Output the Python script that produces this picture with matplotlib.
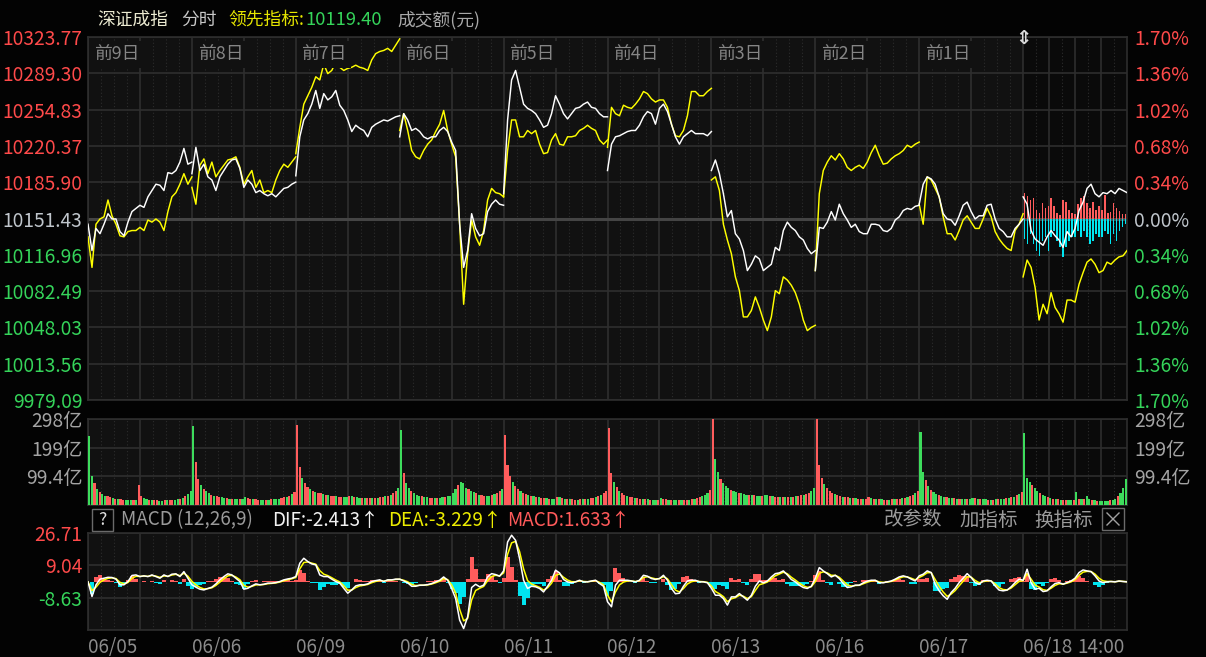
import numpy as np
import pandas as pd
import matplotlib
matplotlib.use("Agg")
import matplotlib.pyplot as plt
from matplotlib.patches import Rectangle
from matplotlib.lines import Line2D

plt.rcParams['font.family'] = ['Noto Sans CJK SC', 'DejaVu Sans']

# ---------------- data ----------------
day_labels = ['前9日', '前8日', '前7日', '前6日', '前5日', '前4日', '前3日', '前2日', '前1日']
date_labels = ['06/05', '06/06', '06/09', '06/10', '06/11', '06/12', '06/13', '06/16', '06/17', '06/18']
price_ticks = [10323.77, 10289.30, 10254.83, 10220.37, 10185.90, 10151.43,
               10116.96, 10082.49, 10048.03, 10013.56, 9979.09]
pct_labels = ['1.70%', '1.36%', '1.02%', '0.68%', '0.34%', '0.00%',
              '0.34%', '0.68%', '1.02%', '1.36%', '1.70%']
prev_close = 10151.43
vol_ticks = [298, 199, 99.4]
vol_labels = ['298亿', '199亿', '99.4亿']
macd_ticks = [26.71, 9.04, -8.63]
macd_labels = ['26.71', '9.04', '-8.63']

# 深证成指 (white) per day
index_d1 = [10146, 10121, 10142, 10137, 10146, 10156, 10151, 10151, 10139, 10135, 10148, 10158, 10161, 10164,
            10162, 10172, 10178, 10184, 10183, 10178, 10195, 10194, 10197, 10205, 10218, 10203, 10205]
index_d2 = [10194, 10219, 10197, 10203, 10191, 10188, 10178, 10191, 10197, 10203, 10207, 10208, 10199, 10181,
            10188, 10184, 10176, 10178, 10175, 10173, 10175, 10172, 10176, 10180, 10181, 10184, 10186]
index_d3 = [10192, 10229, 10245, 10251, 10260, 10273, 10256, 10270, 10264, 10267, 10273, 10259, 10254, 10245,
            10234, 10240, 10237, 10235, 10229, 10238, 10241, 10243, 10245, 10244, 10246, 10248, 10249]
index_d4 = [10229, 10251, 10245, 10235, 10237, 10234, 10229, 10227, 10229, 10229, 10235, 10238, 10234, 10224,
            10216, 10146, 10105, 10121, 10156, 10142, 10135, 10137, 10158, 10165, 10169, 10165, 10164]
index_d5 = [10175, 10245, 10283, 10292, 10276, 10260, 10256, 10254, 10251, 10245, 10238, 10240, 10251, 10268,
            10260, 10251, 10246, 10251, 10256, 10257, 10260, 10262, 10257, 10256, 10251, 10248, 10248]
index_d6 = [10197, 10222, 10229, 10230, 10232, 10234, 10235, 10235, 10240, 10248, 10253, 10251, 10241, 10256,
            10260, 10253, 10241, 10229, 10222, 10229, 10232, 10235, 10232, 10232, 10232, 10230, 10234]
index_d7 = [10197, 10207, 10194, 10175, 10153, 10159, 10137, 10132, 10121, 10102, 10108, 10116, 10113, 10102,
            10105, 10108, 10124, 10121, 10140, 10148, 10143, 10140, 10134, 10131, 10123, 10118, 10121]
index_d8 = [10102, 10143, 10142, 10148, 10158, 10150, 10165, 10156, 10150, 10143, 10146, 10139, 10137, 10137,
            10146, 10146, 10145, 10140, 10139, 10142, 10150, 10153, 10159, 10161, 10160, 10163, 10164]
index_d9 = [10165, 10184, 10191, 10189, 10184, 10172, 10156, 10151, 10150, 10145, 10154, 10164, 10167, 10158,
            10151, 10154, 10154, 10164, 10165, 10151, 10142, 10139, 10134, 10134, 10142, 10146, 10151]
index_d10 = [10172, 10165, 10140, 10132, 10129, 10126, 10134, 10140, 10135, 10131, 10124, 10139, 10134, 10142,
             10159, 10167, 10180, 10184, 10175, 10172, 10176, 10175, 10178, 10175, 10180, 10178, 10176]

# 领先指标 (yellow) per day
lead_d1 = [10134, 10105, 10146, 10151, 10153, 10169, 10154, 10146, 10135, 10134, 10139, 10140, 10140, 10143,
           10140, 10150, 10148, 10151, 10148, 10140, 10158, 10172, 10176, 10184, 10194, 10184, 10191]
lead_d2 = [10181, 10165, 10202, 10208, 10194, 10205, 10191, 10197, 10202, 10207, 10208, 10210, 10200, 10184,
           10191, 10197, 10181, 10188, 10176, 10178, 10176, 10188, 10197, 10203, 10200, 10205, 10210]
lead_d3 = [10213, 10238, 10260, 10268, 10276, 10286, 10283, 10298, 10289, 10292, 10300, 10295, 10292, 10294,
           10295, 10297, 10295, 10294, 10292, 10302, 10308, 10310, 10311, 10313, 10310, 10316, 10322]
lead_d4 = [10235, 10251, 10235, 10216, 10210, 10208, 10216, 10222, 10226, 10234, 10241, 10254, 10235, 10222,
           10210, 10146, 10070, 10118, 10150, 10134, 10126, 10140, 10169, 10180, 10176, 10175, 10172]
lead_d5 = [10172, 10216, 10245, 10245, 10229, 10229, 10235, 10232, 10235, 10222, 10213, 10214, 10226, 10232,
           10222, 10221, 10229, 10229, 10230, 10235, 10237, 10240, 10237, 10235, 10226, 10222, 10226]
lead_d6 = [10219, 10257, 10251, 10249, 10259, 10257, 10256, 10260, 10265, 10272, 10270, 10265, 10262, 10264,
           10264, 10257, 10241, 10230, 10229, 10235, 10249, 10272, 10272, 10268, 10268, 10272, 10275]
lead_d7 = [10188, 10191, 10178, 10146, 10131, 10118, 10096, 10083, 10058, 10058, 10064, 10077, 10067, 10055,
           10045, 10058, 10083, 10080, 10096, 10093, 10088, 10081, 10070, 10055, 10045, 10048, 10050]
lead_d8 = [10102, 10175, 10197, 10205, 10211, 10207, 10213, 10208, 10200, 10197, 10200, 10202, 10199, 10205,
           10214, 10221, 10211, 10203, 10204, 10208, 10211, 10213, 10216, 10221, 10219, 10222, 10224]
lead_d9 = [10165, 10146, 10191, 10188, 10180, 10172, 10153, 10137, 10137, 10131, 10140, 10150, 10154, 10148,
           10142, 10142, 10151, 10161, 10153, 10139, 10132, 10127, 10123, 10121, 10140, 10146, 10156]
lead_d10 = [10096, 10112, 10105, 10086, 10055, 10070, 10061, 10081, 10067, 10061, 10053, 10074, 10074, 10072,
            10089, 10100, 10110, 10113, 10108, 10100, 10102, 10110, 10108, 10112, 10115, 10116, 10121]

# today's buy / sell amounts (bars around the 0% line)
buy_amt = [25, 22, 18, 20, 8, 5, 15, 10, 12, 20, 12, 5, 3, 18, 16, 8, 5, 4, 14, 20,
           22, 15, 10, 16, 8, 12, 8, 23, 5, 6, 15, 10, 7, 4, 4]
sell_amt = [20, 25, 15, 25, 32, 37, 22, 18, 32, 18, 12, 22, 28, 38, 28, 22, 18, 18, 12, 18,
            12, 18, 25, 22, 15, 18, 18, 12, 15, 25, 15, 22, 12, 8, 5]

# 成交额 (亿) per day
vol_d1 = [240, 100, 75, 55, 45, 38, 32, 30, 26, 24, 22, 20, 20, 19, 18, 18, 17, 17, 16, 70,
          30, 24, 20, 18, 17, 16, 16, 15, 15, 16, 16, 17, 18, 18, 20, 22, 25, 30, 38, 50]
vol_d2 = [275, 150, 90, 70, 55, 48, 42, 36, 32, 30, 28, 26, 25, 24, 22, 22, 21, 20, 20, 20,
          26, 24, 22, 20, 20, 19, 18, 18, 18, 19, 20, 20, 21, 22, 24, 26, 28, 32, 38, 45]
vol_d3 = [277, 130, 95, 75, 62, 55, 50, 46, 42, 40, 38, 36, 34, 32, 30, 30, 28, 28, 26, 26,
          32, 30, 28, 26, 25, 24, 24, 23, 23, 24, 24, 25, 26, 28, 30, 32, 35, 40, 48, 60]
vol_d4 = [260, 110, 75, 60, 50, 42, 36, 32, 30, 28, 26, 25, 24, 24, 24, 25, 26, 28, 30, 32,
          40, 55, 70, 80, 75, 60, 55, 50, 45, 40, 36, 34, 32, 30, 32, 35, 38, 42, 48, 55]
vol_d5 = [243, 140, 100, 80, 65, 55, 48, 42, 38, 35, 32, 30, 28, 26, 25, 24, 23, 22, 22, 22,
          28, 26, 24, 22, 21, 20, 20, 19, 19, 20, 20, 21, 22, 23, 25, 27, 30, 34, 40, 48]
vol_d6 = [267, 110, 80, 62, 50, 42, 36, 32, 28, 26, 24, 23, 22, 21, 20, 20, 19, 19, 18, 18,
          24, 22, 20, 19, 18, 18, 17, 17, 17, 18, 18, 19, 20, 22, 24, 26, 30, 35, 42, 52]
vol_d7 = [298, 160, 115, 90, 75, 65, 58, 52, 48, 45, 42, 40, 38, 36, 35, 34, 33, 32, 31, 30,
          36, 34, 32, 30, 29, 28, 28, 27, 27, 28, 28, 29, 30, 31, 33, 35, 38, 42, 48, 58]
vol_d8 = [298, 140, 95, 72, 58, 48, 42, 38, 34, 31, 29, 27, 26, 25, 24, 23, 22, 22, 21, 21,
          26, 24, 22, 21, 20, 20, 19, 19, 19, 20, 20, 21, 22, 23, 25, 27, 30, 34, 40, 48]
vol_d9 = [253, 115, 85, 65, 52, 44, 38, 34, 31, 29, 27, 25, 24, 23, 22, 21, 21, 20, 20, 20,
          25, 23, 22, 21, 20, 20, 19, 19, 19, 20, 20, 21, 22, 23, 24, 26, 29, 33, 38, 45]
vol_d10 = [250, 95, 80, 70, 60, 50, 42, 36, 30, 26, 24, 22, 20, 20, 19, 18, 18, 18, 17, 17,
           45, 22, 20, 20, 30, 22, 18, 16, 15, 15, 15, 15, 15, 16, 18, 22, 30, 40, 60, 90]

# up (r) / down (g) colour of each volume bar
volcol_d1 = "ggrgrggrrg" "rgrrgggrgr" "rggrgrrggr" "grrggrgrgg"
volcol_d2 = "grrgrggrgr" "rggrgrggrg" "grrgrrggrg" "rgggrrgrgr"
volcol_d3 = "rrgrrgrgrr" "grgrrgrrgg" "rgrggrgrrg" "rgrrgrgrrg"
volcol_d4 = "grggrgggrg" "grrgrggrgg" "ggrgggrggr" "grrggrgrrg"
volcol_d5 = "rrrgrrgrrg" "rgrgrrgrgg" "rgrgrgrrgr" "grgrrgrgrr"
volcol_d6 = "rrgrgrrgrr" "grrgrgrggr" "grrgrggrgr" "rgrgrrgggr"
volcol_d7 = "rggrgggrgg" "rgggrgrggr" "ggrgrrgrgr" "grgrrgrrgg"
volcol_d8 = "rrrgrrrgrr" "grrgrgrrgr" "rgrgrgrrgr" "grrgrgrrgr"
volcol_d9 = "ggrgrggrgg" "rggrgrggrg" "grgrggrgrg" "rggrgrgrgr"
volcol_d10 = "gggrggrggr" "grgrgrrggr" "grgrggrgrg" "gggrggrggg"

# MACD DIF per day
dif_d1 = [0, -8, -1.6, 1.5, 2, 2.5, 2.4, 1.5, -1.6, -1.6, 0.2, 3.5, 3.8, 2.9, 3.3, 2.9, 3.8, 2.9, 2, 3.8,
          2.9, 4.2, 4.4, 2.9, 5.6, 2]
dif_d2 = [-1.6, -2.9, -4, -4.4, -3.6, -2.9, -1.1, 1.1, 2.9, 4.4, 3.8, 2, 0.2, -4, -3.5, -2.2, -1.1, -1.6,
          -1.3, -0.7, -0.7, -0.4, 0.2, 1.1, 1.6, 2]
dif_d3 = [2.9, 10.2, 12.9, 11.1, 9.8, 9.3, 3.8, 2.9, 2.9, 1.5, 0.2, -0.7, -3.5, -6.2, -4.4, -2.2, -1.6, -1.6,
          -1.1, 0.2, 0.7, 1.1, 0.2, 1.1, 1.1, 1.5]
dif_d4 = [1.5, 0.5, -0.5, -2.4, -2.4, -1.8, -1.8, -1.5, -0.9, 0, 0.9, 2.7, 0.9, -3.6, -9.1, -20.9, -25.5,
          -19.1, -3.1, -1.3, -2.7, -1.8, 2.7, 4.5, 4, 3.1]
dif_d5 = [6, 21.8, 25.5, 22.7, 12.7, 0.9, -3.6, -2.4, -2.7, -3.6, -5.5, -2.4, 0.9, 6.4, 4.9, 1.3, 0, -0.5,
          0, 0.9, 0, 0, 0.5, 0.9, -0.9, -2.4]
dif_d6 = [-10.9, -13.6, -1.8, 0.9, 0.9, 0.9, 0.5, 0, 0.9, 3.6, 3.1, 1.8, 1.3, 1.8, 3.6, 0.9, -3.6, -6.5,
          -6.2, -2.4, 0.5, 0.9, 0.9, 0, 0, -0.5]
dif_d7 = [-3.5, -7.3, -7.3, -9.1, -12.7, -8.2, -8.2, -6.4, -8.2, -10, -7.3, -2.4, 0.5, -0.5, 0.5, 2.7, 4.5,
          4.9, 6, 3.8, 1.3, 0, -1.8, -3.1, -3.6, -2.4]
dif_d8 = [2, 7.8, 6, 4.5, 2.7, 3.6, 1.8, -0.9, -3.1, -2.7, -1.8, -1.8, -0.5, 0.4, 0.9, 0.9, -0.5, -0.5,
          0, 0.5, 1.5, 2.7, 3.3, 2.7, 1.5, 0.5]
dif_d9 = [3.3, 4.2, 6, 5.1, -1.3, -4.9, -7.6, -9.5, -5.8, -3.5, -0.4, 2, 4.5, 2.4, -0.4, -1.3, 0.5, 0.9,
          0.5, -2.2, -4.5, -4.9, -4.5, -2.7, -0.4, 1.5]
dif_d10 = [0.9, 6.9, -0.4, -4, -3.5, -5.3, -4.9, -2.7, -0.9, -0.4, -1.3, -0.4, 0.5, 2, 5.1, 6.5, 6, 5.6,
           3.3, 0.5, -0.4, 0, 0.2, 0, 0.5, 0.2, 0]

# ---------------- styling ----------------
BG = '#030303'
PANEL = '#111111'
TODAY_BG = '#0a0a0a'
GRID = '#2e2e2e'
GRID_DOT = '#2c2c2c'
WHITE = '#ffffff'
YELLOW = '#ffff00'
RED = '#ff4a4a'
GREEN = '#35d45a'
GRAY_T = '#9a9a9a'
RED_BAR = '#ff5c5c'
GREEN_BAR = '#3ddc5c'
CYAN = '#00e5f0'
AXFS = 13.8

W, H = 1206, 657
fig = plt.figure(figsize=(W / 100, H / 100), dpi=100, facecolor=BG)


def rect(x0, y0, x1, y1):
    return [x0 / W, 1 - y1 / H, (x1 - x0) / W, (y1 - y0) / H]


def ftext(x, y, s, **kw):
    ha = kw.pop('ha', 'left')
    return fig.text(x / W, 1 - y / H, s, ha=ha, va='center', **kw)


DAY = 240
ND = 10
XMAX = DAY * ND

ax = fig.add_axes(rect(88, 37, 1127, 400))
axv = fig.add_axes(rect(88, 419, 1127, 505))
axm = fig.add_axes(rect(88, 533, 1127, 630))


def style(a, hticks):
    a.set_facecolor(PANEL)
    a.set_xlim(0, XMAX)
    for s in a.spines.values():
        s.set_color(GRID)
        s.set_linewidth(1.2)
    a.axvspan(9 * DAY, XMAX, color=TODAY_BG, zorder=0, lw=0)
    for d in range(ND):
        if d < ND - 1:
            solids = [d * DAY, d * DAY + 120]
            dots = [d * DAY + 30 * j for j in (1, 2, 3, 5, 6, 7)]
        else:
            solids = [d * DAY + 60 * j for j in range(4)]
            dots = [d * DAY + 30 + 60 * j for j in range(4)]
        for s in solids:
            a.axvline(s, color=GRID, lw=1.2, zorder=1)
        for s in dots:
            a.axvline(s, color=GRID_DOT, lw=0.8, ls=(0, (1, 2)), zorder=1)
    for t in hticks:
        a.axhline(t, color=GRID, lw=1.2, zorder=1)
    a.tick_params(axis='x', length=0)
    a.tick_params(axis='y', length=0)


# ---- main price panel ----
style(ax, price_ticks)
ax.set_ylim(price_ticks[-1], price_ticks[0])
ax.axhline(prev_close, color='#444444', lw=2.2, zorder=2)

index_days = [index_d1, index_d2, index_d3, index_d4, index_d5, index_d6, index_d7, index_d8, index_d9, index_d10]
lead_days = [lead_d1, lead_d2, lead_d3, lead_d4, lead_d5, lead_d6, lead_d7, lead_d8, lead_d9, lead_d10]
for d in range(ND):
    wv = np.array(index_days[d], dtype=float)
    yv = np.array(lead_days[d], dtype=float)
    xw = d * DAY + np.linspace(0, DAY, len(wv))
    xy = d * DAY + np.linspace(0, DAY, len(yv))
    ax.plot(xy, yv, color=YELLOW, lw=1.05, zorder=4)
    ax.plot(xw, wv, color=WHITE, lw=1.05, zorder=5)

# buy / sell bars of today
PTS_PER_UNIT = 0.95
nb = len(buy_amt)
slot = DAY / nb
xb = 9 * DAY + (np.arange(nb) + 0.5) * slot
ax.bar(xb, np.array(buy_amt) * PTS_PER_UNIT, bottom=prev_close, width=slot * 0.55,
       color=RED_BAR, lw=0, zorder=3)
ns = len(sell_amt)
slot_s = DAY / ns
xs = 9 * DAY + (np.arange(ns) + 0.5) * slot_s
ax.bar(xs, -np.array(sell_amt) * PTS_PER_UNIT, bottom=prev_close, width=slot_s * 0.55,
       color=CYAN, lw=0, zorder=3)

ax.set_xticks([])
ax.set_yticks(price_ticks)
ax.set_yticklabels([f'{v:.2f}' for v in price_ticks])
ax.tick_params(axis='y', pad=4, labelsize=AXFS)
for i, lab in enumerate(ax.get_yticklabels()):
    lab.set_color(RED if i < 5 else ('#c0c6cc' if i == 5 else GREEN))

axr = ax.twinx()
axr.set_ylim(ax.get_ylim())
axr.set_yticks(price_ticks)
axr.set_yticklabels(pct_labels)
axr.tick_params(axis='y', length=0, pad=5, labelsize=AXFS)
for s in axr.spines.values():
    s.set_visible(False)
for i, lab in enumerate(axr.get_yticklabels()):
    lab.set_color(RED if i < 5 else ('#c0c6cc' if i == 5 else GREEN))

for d, lab in enumerate(day_labels):
    ax.text(d * DAY + 13, 0.952, lab, transform=ax.get_xaxis_transform(), color='#858585',
            fontsize=12.8, ha='left', va='center', zorder=6,
            bbox=dict(boxstyle='square,pad=0.25', fc=PANEL, ec='none'))

# ---- volume panel ----
style(axv, vol_ticks)
axv.set_ylim(0, 298)
vol_days = [vol_d1, vol_d2, vol_d3, vol_d4, vol_d5, vol_d6, vol_d7, vol_d8, vol_d9, vol_d10]
col_days = [volcol_d1, volcol_d2, volcol_d3, volcol_d4, volcol_d5, volcol_d6, volcol_d7, volcol_d8,
            volcol_d9, volcol_d10]
for d in range(ND):
    v = np.array(vol_days[d], dtype=float)
    n = len(v)
    sw = DAY / n
    xv = d * DAY + (np.arange(n) + 0.5) * sw
    cols = [RED_BAR if c == 'r' else GREEN_BAR for c in col_days[d][:n]]
    axv.bar(xv, v, width=sw * 0.82, color=cols, lw=0, zorder=3)
axv.set_xticks([])
axv.set_yticks(vol_ticks)
axv.set_yticklabels(vol_labels)
axv.tick_params(axis='y', pad=4, labelsize=AXFS, labelcolor='#a4a4a4')
axvr = axv.twinx()
axvr.set_ylim(axv.get_ylim())
axvr.set_yticks(vol_ticks)
axvr.set_yticklabels(vol_labels)
axvr.tick_params(axis='y', length=0, pad=5, labelsize=AXFS, labelcolor='#a4a4a4')
for s in axvr.spines.values():
    s.set_visible(False)

# ---- MACD panel ----
style(axm, macd_ticks)
axm.set_ylim(-26.30, 26.71)
dif = np.array(dif_d1 + dif_d2 + dif_d3 + dif_d4 + dif_d5 + dif_d6 + dif_d7 + dif_d8 + dif_d9 + dif_d10,
               dtype=float)
dea = pd.Series(dif).ewm(alpha=0.6, adjust=False).mean().to_numpy()
hist = 2 * (dif - dea)
xm = np.linspace(0, XMAX, len(dif))
mw = XMAX / (len(dif) - 1)
axm.bar(xm, hist, width=mw, color=[RED_BAR if h >= 0 else CYAN for h in hist], lw=0, zorder=3)
axm.plot(xm, dea, color=YELLOW, lw=1.1, zorder=4)
axm.plot(xm, dif, color=WHITE, lw=1.1, zorder=5)
axm.set_yticks(macd_ticks)
axm.set_yticklabels(macd_labels)
axm.tick_params(axis='y', pad=4, labelsize=AXFS)
for i, lab in enumerate(axm.get_yticklabels()):
    lab.set_color(RED if i < 2 else GREEN)
xt = [d * DAY for d in range(ND)] + [9 * DAY + 180]
axm.set_xticks(xt)
axm.set_xticklabels(date_labels + ['14:00'])
axm.tick_params(axis='x', pad=5, labelsize=13.6, labelcolor='#8c8c8c')
xl = axm.get_xticklabels()
for i, lab in enumerate(xl):
    lab.set_ha('center' if i == len(xl) - 1 else 'left')

# ---- header texts ----
ftext(97, 20, '深证成指', color='#ecebd2', fontsize=12.8)
ftext(181, 20, '分时', color='#c8c8c8', fontsize=12.8)
ftext(228, 20, '领先指标:', color='#e6e600', fontsize=12.8)
ftext(305, 20, '10119.40', color=GREEN, fontsize=13.2)
ftext(397, 20, '成交额(元)', color='#a8a8a8', fontsize=12.8)
ftext(1023, 38, '⇕', color='#d8d8d8', fontsize=14, ha='center', family='DejaVu Sans', fontweight='bold')

# ---- MACD header ----
fig.add_artist(Rectangle((92 / W, 1 - 531 / H), 21 / W, 22 / H, transform=fig.transFigure,
                         fill=False, ec='#6a6a6a', lw=1))
ftext(102.5, 520, '?', color='#e0e0e0', fontsize=12.5, ha='center')
ftext(121, 520, 'MACD (12,26,9)', color=GRAY_T, fontsize=13.6)
ftext(272, 520, 'DIF:-2.413↑', color='#f2f2f2', fontsize=13.6)
ftext(388, 520, 'DEA:-3.229↑', color='#ecec00', fontsize=13.6)
ftext(507, 520, 'MACD:1.633↑', color='#ff5a5a', fontsize=13.6)
ftext(884, 520, '改参数', color=GRAY_T, fontsize=14)
ftext(959, 520, '加指标', color=GRAY_T, fontsize=14)
ftext(1034, 520, '换指标', color=GRAY_T, fontsize=14)
fig.add_artist(Rectangle((1102 / W, 1 - 530 / H), 22 / W, 22 / H, transform=fig.transFigure,
                         fill=False, ec='#6a6a6a', lw=1))
for (xa, ya, xb2, yb) in [(1107, 513, 1119, 525), (1107, 525, 1119, 513)]:
    fig.add_artist(Line2D([xa / W, xb2 / W], [1 - ya / H, 1 - yb / H], transform=fig.transFigure,
                          color='#a0a0a0', lw=1))

fig.savefig('out.png', dpi=100, facecolor=BG)
